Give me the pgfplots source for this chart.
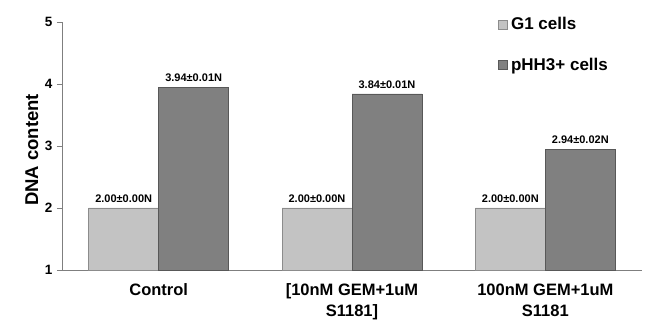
\documentclass[border=0pt]{standalone}
\usepackage{pgfplots}
\pgfplotsset{compat=1.18}
\usepackage{fontspec}
\setmainfont{Liberation Sans}
\definecolor{gone}{HTML}{C3C3C3}
\definecolor{goneedge}{HTML}{8C8C8C}
\definecolor{phh}{HTML}{808080}
\definecolor{phhedge}{HTML}{585858}
\definecolor{axgray}{HTML}{7F7F7F}
\begin{document}
\begin{tikzpicture}
\useasboundingbox (-62pt,-58pt) rectangle (583pt,270pt);
\begin{axis}[
  scale only axis,
  width=580pt, height=248pt,
  ybar=0pt, bar width=70pt,
  xmin=-0.5, xmax=2.5,
  ymin=1, ymax=5,
  ytick={1,2,3,4,5},
  xtick={0,1,2},
  xticklabels={Control,{[10nM GEM+1uM\\S1181]},{100nM GEM+1uM\\S1181}},
  axis x line=bottom, axis y line=left,
  axis line style={-, draw=axgray, line width=0.8pt},
  xtick style={draw=none},
  ytick style={draw=axgray, line width=0.8pt},
  tick align=outside, major tick length=5pt,
  /pgf/number format/assume math mode=true,
  yticklabel style={font=\fontsize{13.5}{15}\selectfont\bfseries, xshift=-1pt},
  xticklabel style={font=\fontsize{16.5}{21}\selectfont\bfseries, align=center, yshift=-5pt},
  ylabel={DNA content},
  ylabel style={font=\fontsize{18.5}{21}\selectfont\bfseries, at={(axis description cs:-0.052,0.484)}, anchor=center},
  nodes near coords,
  point meta=explicit symbolic,
  nodes near coords style={font=\fontsize{11}{13}\selectfont\bfseries, anchor=south, yshift=2pt, text=black},
  legend style={draw=none, fill=none, at={(0.747,1.035)}, anchor=north west,
    font=\fontsize{17}{20}\selectfont\bfseries, row sep=23pt, column sep=1pt},
  legend cell align=left,
  legend image code/.code={\draw[#1] (0pt,-4.5pt) rectangle (9pt,4.5pt);},
  clip=false,
]
\addplot[fill=gone, draw=goneedge, line width=0.6pt]
  coordinates {(0,2.00) [2.00±0.00N] (1,2.00) [2.00±0.00N] (2,2.00) [2.00±0.00N]};
\addlegendentry{G1 cells}
\addplot[fill=phh, draw=phhedge, line width=0.6pt]
  coordinates {(0,3.94) [3.94±0.01N] (1,3.84) [3.84±0.01N] (2,2.94) [2.94±0.02N]};
\addlegendentry{pHH3+ cells}
\end{axis}
\end{tikzpicture}
\end{document}
